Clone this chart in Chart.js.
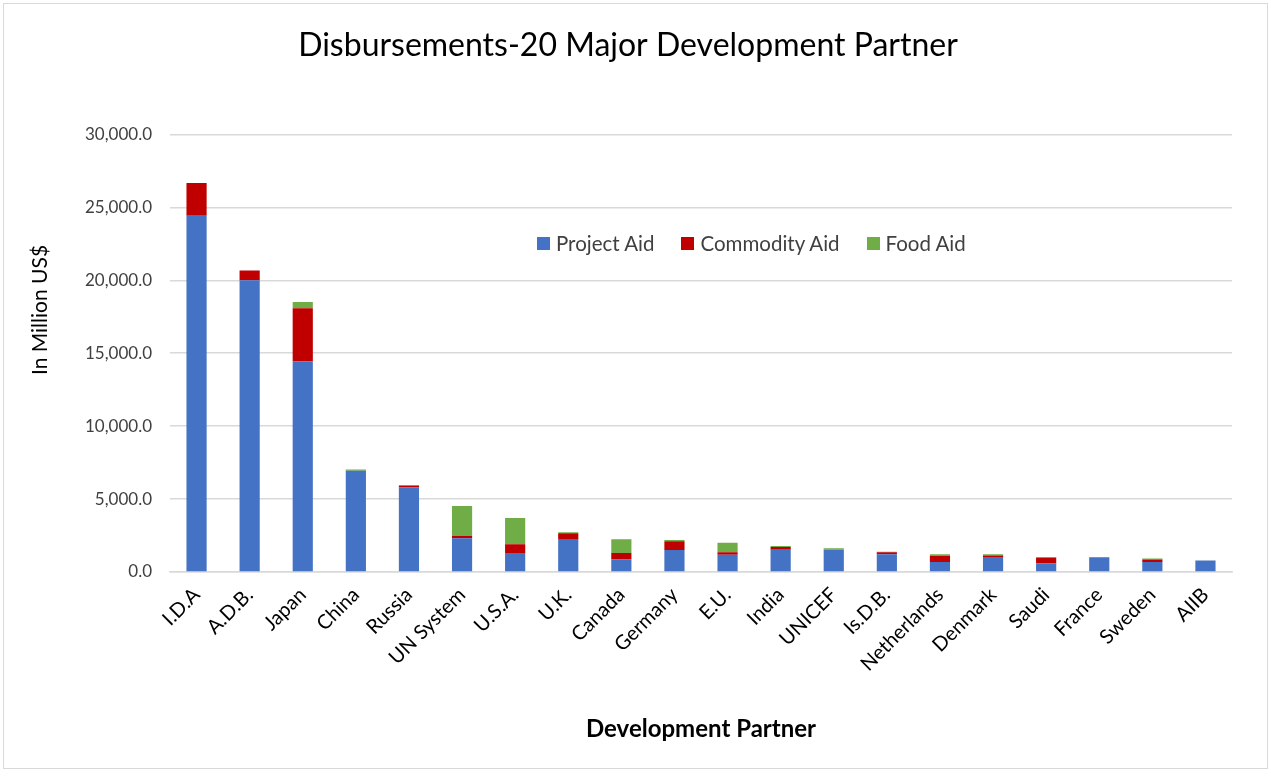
<!DOCTYPE html>
<html>
<head>
<meta charset="utf-8">
<title>Disbursements-20 Major Development Partner</title>
<script src="https://cdn.jsdelivr.net/npm/chart.js@4.4.1/dist/chart.umd.min.js"></script>
<style>
  html, body { margin: 0; padding: 0; background: #fff; }
  #wrap {
    position: relative;
    width: 1265px; height: 766px;
    margin: 3px 0 0 3px;
    border: 1px solid #d9d9d9;
    box-sizing: border-box;
  }
  #wrap canvas { display: block; }
  #legend {
    position: absolute;
    top: 227px; left: 533px;
    display: flex; gap: 27px;
    font-family: Lato, "Open Sans", sans-serif;
    font-size: 20.5px; color: #404040;
  }
  .lg-item { display: flex; align-items: center; }
  .lg-box { width: 13px; height: 13px; margin-right: 6px; }
</style>
</head>
<body>
<div id="wrap">
  <canvas id="chart" width="1263" height="764"></canvas>
  <div id="legend"></div>
</div>
<script>
// data (million US$)
const partners = ['I.D.A', 'A.D.B.', 'Japan', 'China', 'Russia', 'UN System', 'U.S.A.', 'U.K.', 'Canada', 'Germany',
  'E.U.', 'India', 'UNICEF', 'Is.D.B.', 'Netherlands', 'Denmark', 'Saudi', 'France', 'Sweden', 'AIIB'];
const projectAid   = [24420, 20000, 14440, 6940, 5800, 2310, 1300, 2210, 870, 1510, 1190, 1530, 1530, 1210, 680, 1030, 600, 960, 680, 780];
const commodityAid = [2240, 670, 3650, 0, 90, 160, 600, 440, 430, 600, 160, 180, 0, 140, 440, 100, 360, 0, 180, 0];
const foodAid      = [0, 0, 420, 90, 70, 2050, 1800, 70, 940, 90, 660, 70, 90, 30, 90, 90, 70, 70, 70, 0];

const yTicks = [0, 5000, 10000, 15000, 20000, 25000, 30000];

const COLORS = { project: '#4472C4', commodity: '#C00000', food: '#70AD47' };
const FONT = 'Lato, "Open Sans", sans-serif';

const datasets = [
  { label: 'Project Aid', data: projectAid, backgroundColor: COLORS.project },
  { label: 'Commodity Aid', data: commodityAid, backgroundColor: COLORS.commodity },
  { label: 'Food Aid', data: foodAid, backgroundColor: COLORS.food }
].map(d => Object.assign(d, { categoryPercentage: 1, barPercentage: 0.38 }));

// y axis title, drawn by hand so it sits where Excel puts it
const yTitlePlugin = {
  id: 'yTitle',
  afterDraw(chart) {
    const c = chart.ctx;
    c.save();
    c.translate(36, 306);
    c.rotate(-Math.PI / 2);
    c.font = '21px ' + FONT;
    c.fillStyle = '#000';
    c.textAlign = 'center';
    c.textBaseline = 'middle';
    c.fillText('In Million US$', 0, 0);
    c.restore();
  }
};

const ctx = document.getElementById('chart').getContext('2d');
new Chart(ctx, {
  type: 'bar',
  data: { labels: partners, datasets: datasets },
  plugins: [yTitlePlugin],
  options: {
    responsive: false,
    animation: false,
    layout: { padding: { left: 20, right: 35, top: 0, bottom: 20 } },
    plugins: {
      legend: { display: false },
      tooltip: { enabled: false },
      title: {
        display: true,
        text: 'Disbursements-20 Major Development Partner',
        color: '#000',
        font: { family: FONT, size: 32, weight: 'normal' },
        padding: { top: 22, bottom: 70 }
      }
    },
    scales: {
      x: {
        stacked: true,
        grid: { display: false },
        border: { color: '#d9d9d9', width: 1.5 },
        ticks: {
          color: '#000', minRotation: 45, maxRotation: 45,
          font: { family: FONT, size: 20 }
        },
        title: {
          display: true, text: 'Development Partner', color: '#000',
          font: { family: FONT, size: 24, weight: 'bold' }
        },
        afterFit: s => { s.height = 176; }
      },
      y: {
        stacked: true,
        min: 0, max: 30000,
        afterBuildTicks: s => { s.ticks = yTicks.map(v => ({ value: v })); },
        grid: { color: '#d9d9d9', lineWidth: 1.5, drawTicks: false },
        border: { display: false },
        ticks: {
          color: '#404040', padding: 18,
          font: { family: FONT, size: 17 },
          callback: v => v.toLocaleString('en-US', { minimumFractionDigits: 1, maximumFractionDigits: 1 })
        },
        afterFit: s => { s.width = 146; }
      }
    }
  }
});

// legend inside the plot
const legend = document.getElementById('legend');
datasets.forEach(d => {
  const item = document.createElement('div');
  item.className = 'lg-item';
  item.innerHTML = '<span class="lg-box" style="background:' + d.backgroundColor + '"></span><span>' + d.label + '</span>';
  legend.appendChild(item);
});
</script>
</body>
</html>
